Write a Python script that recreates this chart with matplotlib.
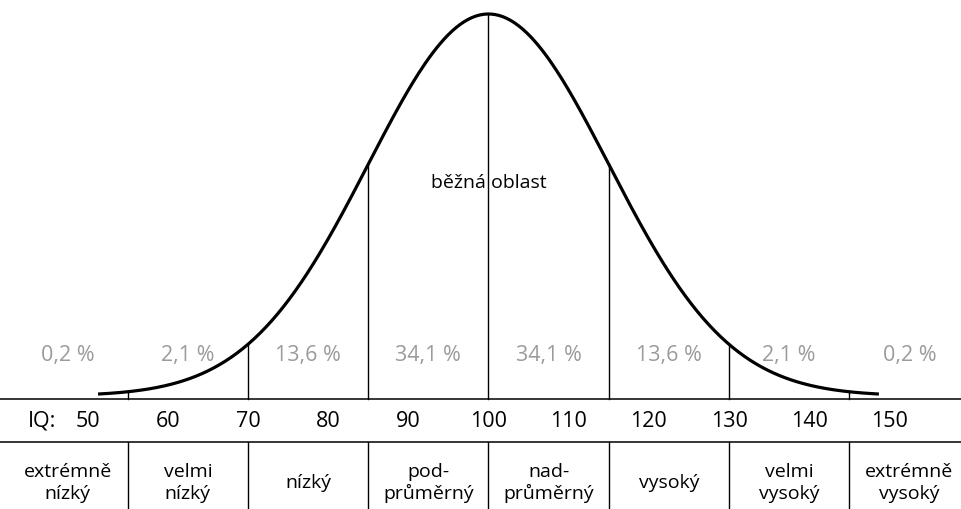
import matplotlib
matplotlib.use('Agg')
import matplotlib.pyplot as plt
import numpy as np

plt.rcParams['font.family'] = ['Open Sans', 'DejaVu Sans']

# data
mean_iq = 100
sd_iq = 15
curve_range = (51.3, 148.7)
boundaries = [55, 70, 85, 100, 115, 130, 145]
bin_edges = [40, 55, 70, 85, 100, 115, 130, 145, 160]
percents = ['0,2 %', '2,1 %', '13,6 %', '34,1 %', '34,1 %', '13,6 %', '2,1 %', '0,2 %']
iq_ticks = [50, 60, 70, 80, 90, 100, 110, 120, 130, 140, 150]
categories = ['extrémně\nnízký', 'velmi\nnízký', 'nízký', 'pod-\nprůměrný',
              'nad-\nprůměrný', 'vysoký', 'velmi\nvysoký', 'extrémně\nvysoký']
common_label = 'běžná oblast'


def bell(x):
    return np.exp(-0.5 * ((np.asarray(x) - mean_iq) / sd_iq) ** 2)


def main():
    fig = plt.figure(figsize=(9.61, 5.09), dpi=100)
    ax = fig.add_axes([0, 0, 1, 1])
    ax.set_xlim(39.07, 158.94)
    ax.set_ylim(-0.2958, 1.0366)
    ax.axis('off')

    axis_y = -0.0079
    row_y = -0.1217
    gray = '#9b9b9b'

    # bell curve
    xs = np.linspace(curve_range[0], curve_range[1], 400)
    ax.plot(xs, bell(xs), color='black', lw=2.3, solid_capstyle='butt', zorder=3)

    # horizontal rules
    ax.axhline(axis_y, color='black', lw=1.1)
    ax.axhline(row_y, color='black', lw=1.1)

    # vertical lines under curve and category dividers
    for b in boundaries:
        ax.plot([b, b], [axis_y, bell(b)], color='black', lw=1.0)
        ax.plot([b, b], [row_y, -0.2958], color='black', lw=1.0)

    mids = [(a + b) / 2 for a, b in zip(bin_edges[:-1], bin_edges[1:])]

    for m, p in zip(mids, percents):
        ax.text(m, 0.107, p, color=gray, fontsize=15.5, ha='center', va='center')

    ax.text(44.3, -0.066, 'IQ:', fontsize=15.5, ha='center', va='center')
    for t in iq_ticks:
        ax.text(t, -0.066, str(t), fontsize=15.5, ha='center', va='center')

    for m, c in zip(mids, categories):
        ax.text(m, -0.2277, c, fontsize=14, ha='center', va='center',
                linespacing=1.25)

    ax.text(mean_iq, 0.5576, common_label, fontsize=14, ha='center',
            va='center')

    fig.savefig('out.png', dpi=100)


if __name__ == '__main__':
    main()
